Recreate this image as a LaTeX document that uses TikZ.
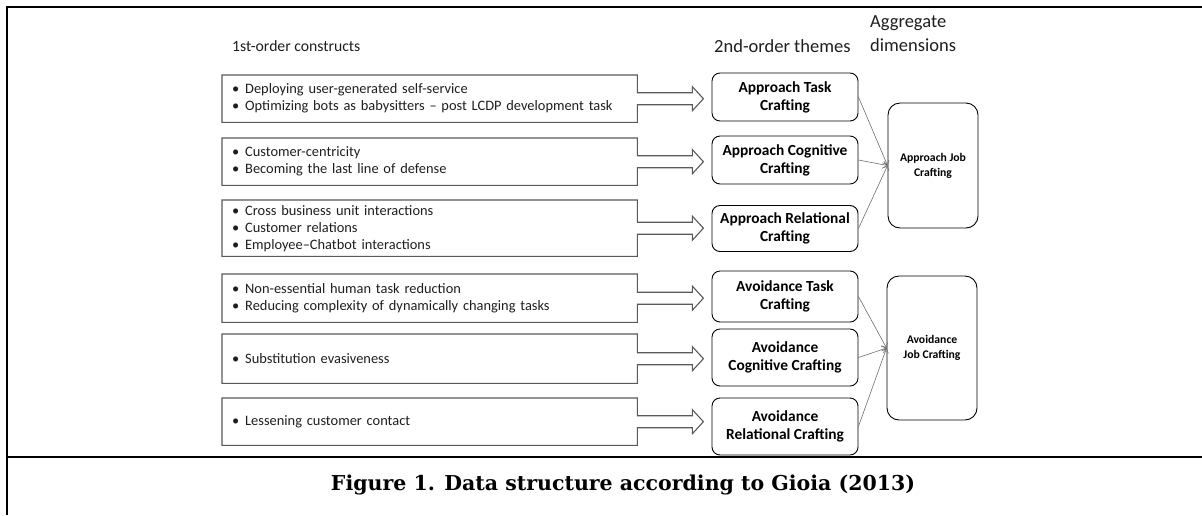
\documentclass[tikz,border=0pt]{standalone}
\usepackage{fontspec}
\setmainfont{Carlito}
\newfontfamily\captionfont{DejaVu Serif}
\usetikzlibrary{calc,arrows.meta}

\definecolor{boxgrey}{RGB}{89,89,89}
\definecolor{textgrey}{RGB}{30,30,30}
\definecolor{linkgrey}{RGB}{110,110,110}

\newcommand{\itembullet}{\makebox[13pt][l]{\textbullet}}
% outline of a construct box with its arrow to the right
\newcommand{\calloutbox}[1]{%
  \draw[boxgrey,line width=1.1pt,line join=miter]
    (#1.north west) -- (#1.north east) -- ($(#1.east)+(0,-6)$)
    -- ++(55,0) -- ++(0,-6) -- ($(#1.east)+(66,0)$)
    -- ($(#1.east)+(55,12)$) -- ++(0,-6) -- ($(#1.east)+(0,6)$)
    -- (#1.south east) -- (#1.south west) -- cycle;}

\tikzset{
  head/.style={inner sep=0pt,textgrey,font=\fontsize{15.7}{21}\selectfont},
  bighead/.style={inner sep=0pt,textgrey,font=\fontsize{18.5}{24}\selectfont},
  construct/.style={anchor=north west,inner xsep=10pt,inner ysep=0pt,
    text width=395pt,minimum height=#1,align=left,textgrey,
    font=\fontsize{14.4}{17}\selectfont},
  theme/.style={draw,line width=0.9pt,rounded corners=8pt,minimum width=146pt,
    inner sep=0pt,align=center,font=\bfseries\fontsize{15.4}{18}\selectfont},
  agg/.style={draw,line width=0.9pt,rounded corners=12pt,minimum width=90pt,
    inner sep=0pt,align=center,font=\bfseries\fontsize{11.7}{15}\selectfont},
  link/.style={->,linkgrey,line width=0.6pt},
  frame/.style={line width=2.3pt}
}

\begin{document}
\begin{tikzpicture}[x=1pt,y=-1pt,>={Straight Barb[length=4pt,width=7pt]}]
    \useasboundingbox (0,0) rectangle (1202,515);
    \draw[frame] (7,515) -- (7,7) -- (1202,7);
    \draw[frame] (7,457) -- (1202,457);

    \node[head,anchor=west] (hfirst) at (232,46) {1st-order constructs};
    \node[bighead,anchor=west] (hsecond) at (714,46) {2nd-order themes};
    \node[bighead,anchor=west,align=left] (hagg) at (870,34) {Aggregate\\dimensions};

    \node[construct=47pt] (c1) at (222,75)
      {\itembullet Deploying user-generated self-service\\
       \itembullet Optimizing bots as babysitters – post LCDP development task};
    \node[construct=47pt] (c2) at (222,138)
      {\itembullet Customer-centricity\\
       \itembullet Becoming the last line of defense};
    \node[construct=56pt] (c3) at (222,200)
      {\itembullet Cross business unit interactions\\
       \itembullet Customer relations\\
       \itembullet Employee–Chatbot interactions};
    \node[construct=48pt] (c4) at (222,274)
      {\itembullet Non-essential human task reduction\\
       \itembullet Reducing complexity of dynamically changing tasks};
    \node[construct=49pt] (c5) at (222,334)
      {\itembullet Substitution evasiveness};
    \node[construct=47pt] (c6) at (222,398)
      {\itembullet Lessening customer contact};
    \calloutbox{c1}
    \calloutbox{c2}
    \calloutbox{c3}
    \calloutbox{c4}
    \calloutbox{c5}
    \calloutbox{c6}

    \node[theme,minimum height=48pt] (atask) at (785,97) {Approach Task\\Crafting};
    \node[theme,minimum height=48pt] (acog) at (785,160) {Approach Cognitive\\Crafting};
    \node[theme,minimum height=46pt] (arel) at (785,228.5) {Approach Relational\\Crafting};
    \node[theme,minimum height=51pt] (vtask) at (785,296.5) {Avoidance Task\\Crafting};
    \node[theme,minimum height=57pt] (vcog) at (785,357.5) {Avoidance\\Cognitive Crafting};
    \node[theme,minimum height=57pt] (vrel) at (785,426.5) {Avoidance\\Relational Crafting};

    \node[agg,minimum height=125pt] (appjob) at (933,165.5) {Approach Job\\Crafting};
    \node[agg,minimum height=144pt] (avojob) at (932,348) {Avoidance\\Job Crafting};

    \draw[link] (atask.east) -- (appjob.west);
    \draw[link] (acog.east) -- (appjob.west);
    \draw[link] (arel.east) -- (appjob.west);
    \draw[link] (vtask.east) -- (avojob.west);
    \draw[link] (vcog.east) -- (avojob.west);
    \draw[link] (vrel.east) -- (avojob.west);

    \node[font=\captionfont\bfseries\fontsize{20.5}{24}\selectfont] (cap) at (623,485)
      {Figure 1. Data structure according to Gioia (2013)};
  \end{tikzpicture}
\end{document}
